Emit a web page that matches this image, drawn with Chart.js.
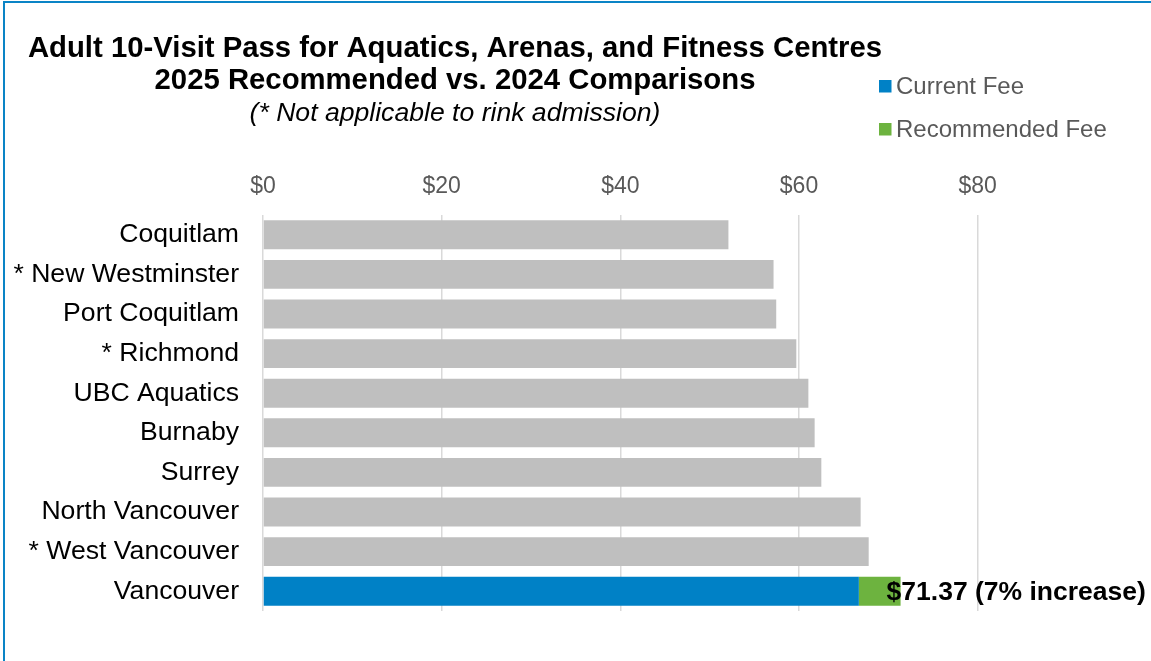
<!DOCTYPE html>
<html>
<head>
<meta charset="utf-8">
<title>Adult 10-Visit Pass</title>
<script src="https://cdn.jsdelivr.net/npm/chart.js@4.4.1/dist/chart.umd.min.js"></script>
<style>
  html, body { margin: 0; padding: 0; background: #fff; overflow: hidden; }
  #box { position: relative; width: 1151px; height: 661px; }
  #frame { position: absolute; left: 3px; top: 1px; width: 1200px; height: 700px;
           border-top: 2px solid #0a84c6; border-left: 2px solid #0a84c6; pointer-events: none; }
</style>
</head>
<body>
<div id="box">
  <canvas id="feeChart" width="1151" height="661"></canvas>
  <div id="frame"></div>
</div>
<script>
  // data
  const categories = [
    'Coquitlam',
    '* New Westminster',
    'Port Coquitlam',
    '* Richmond',
    'UBC Aquatics',
    'Burnaby',
    'Surrey',
    'North Vancouver',
    '* West Vancouver',
    'Vancouver'
  ];
  const currentFee = [52.10, 57.15, 57.45, 59.70, 61.05, 61.75, 62.50, 66.90, 67.80, 66.70];
  const recommendedIncrease = [null, null, null, null, null, null, null, null, null, 4.67];
  const xTicks = [0, 20, 40, 60, 80];

  const titleLines = ['Adult 10-Visit Pass for Aquatics, Arenas, and Fitness Centres', '2025 Recommended vs. 2024 Comparisons'];
  const subtitleText = '(* Not applicable to rink admission)';

  const BLUE = '#0081c6';
  const GREEN = '#6db33f';
  const GREY = '#bfbfbf';
  const FONT = '"Liberation Sans", Arial, sans-serif';

  let barColors = categories.map(c => c === 'Vancouver' ? BLUE : GREY);

  // title, legend and the Vancouver label
  const decorations = {
    id: 'decorations',
    afterDraw(chart) {
      let ctx = chart.ctx;
      ctx.save();
      ctx.fillStyle = '#000';
      ctx.textAlign = 'center';
      ctx.textBaseline = 'alphabetic';
      ctx.font = 'bold 29.3px ' + FONT;
      ctx.fillText(titleLines[0], 455, 57);
      ctx.fillText(titleLines[1], 455, 89);
      ctx.font = 'italic 26.6px ' + FONT;
      ctx.fillText(subtitleText, 455, 121);

      // legend
      let legendColors = [BLUE, GREEN];
      chart.data.datasets.forEach((ds, i) => {
        let cy = 86.5 + i * 43;
        ctx.fillStyle = legendColors[i];
        ctx.fillRect(879, cy - 6.5, 12.5, 12.5);
        ctx.fillStyle = '#595959';
        ctx.font = '24px ' + FONT;
        ctx.textAlign = 'left';
        ctx.textBaseline = 'middle';
        ctx.fillText(ds.label, 896, cy + 1);
      });

      // data label at the end of the Vancouver stack
      let idx = categories.indexOf('Vancouver');
      let bar = chart.getDatasetMeta(1).data[idx];
      let total = currentFee[idx] + recommendedIncrease[idx];
      let pct = Math.round(recommendedIncrease[idx] / currentFee[idx] * 100);
      ctx.fillStyle = '#000';
      ctx.font = 'bold 26.5px ' + FONT;
      ctx.textAlign = 'left';
      ctx.textBaseline = 'middle';
      ctx.fillText('$' + total.toFixed(2) + ' (' + pct + '% increase)', bar.x - 14, bar.y + 1);
      ctx.restore();
    }
  };

  let ctx = document.getElementById('feeChart');

  let data = {
    labels: categories,
    datasets: [
      {
        label: 'Current Fee',
        data: currentFee,
        backgroundColor: barColors,
        barPercentage: 0.73,
        categoryPercentage: 1
      },
      {
        label: 'Recommended Fee',
        data: recommendedIncrease,
        backgroundColor: GREEN,
        barPercentage: 0.73,
        categoryPercentage: 1
      }
    ]
  };

  let options = {
    indexAxis: 'y',
    responsive: false,
    animation: false,
    events: [],
    layout: {
      padding: { left: 5, right: 84, top: 171, bottom: 50 }
    },
    plugins: {
      legend: { display: false },
      title: { display: false },
      tooltip: { enabled: false }
    },
    scales: {
      x: {
        position: 'top',
        stacked: true,
        min: 0,
        max: 90,
        afterBuildTicks: scale => {
          scale.ticks = xTicks.map(v => ({ value: v }));
        },
        afterFit: scale => { scale.height = 44; },
        grid: { color: '#d9d9d9', lineWidth: 1.5, drawTicks: false },
        border: { display: false },
        ticks: {
          padding: 15,
          color: '#595959',
          font: { family: FONT, size: 23 },
          callback: v => '$' + v
        }
      },
      y: {
        stacked: true,
        afterFit: scale => { scale.width = 258; },
        grid: { display: false, drawTicks: false },
        border: { display: false },
        ticks: {
          padding: 24,
          color: '#000',
          font: { family: FONT, size: 26.6 }
        }
      }
    }
  };

  let feeChart = new Chart(ctx, {
    type: 'bar',
    data: data,
    options: options,
    plugins: [decorations]
  });
</script>
</body>
</html>
